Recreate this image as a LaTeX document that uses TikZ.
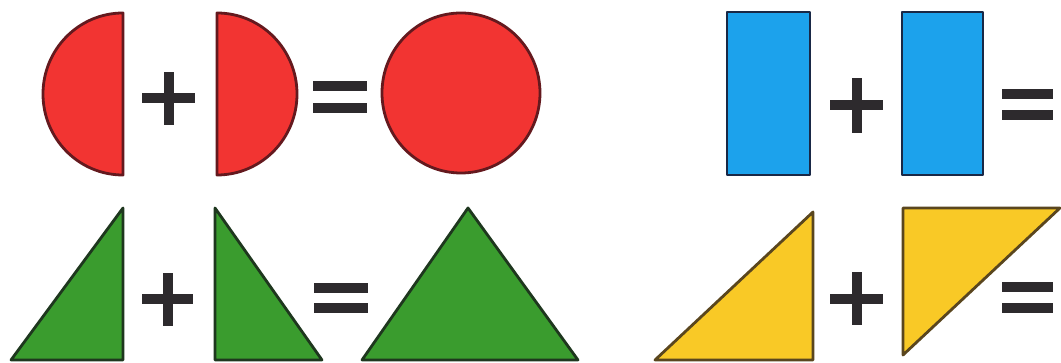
\documentclass[tikz,border=0pt]{standalone}
\definecolor{redfill}{RGB}{242,52,50}
\definecolor{redline}{RGB}{100,25,30}
\definecolor{bluefill}{RGB}{28,162,236}
\definecolor{blueline}{RGB}{25,40,70}
\definecolor{greenfill}{RGB}{58,156,46}
\definecolor{greenline}{RGB}{30,55,30}
\definecolor{yellowfill}{RGB}{249,201,38}
\definecolor{yellowline}{RGB}{90,70,30}
\definecolor{signcol}{RGB}{45,42,45}
\begin{document}
\begin{tikzpicture}[x=1pt,y=-1pt,
  redshape/.style={fill=redfill,draw=redline,line width=2.8pt,line join=round},
  blueshape/.style={fill=bluefill,draw=blueline,line width=2.8pt,line join=round},
  greenshape/.style={fill=greenfill,draw=greenline,line width=2.8pt,line join=round},
  yellowshape/.style={fill=yellowfill,draw=yellowline,line width=2.8pt,line join=round},
  signbar/.style={fill=signcol,draw=none}]
\useasboundingbox[fill=white] (0,0) rectangle (1061,363);
% ---------- red row ----------
\draw[redshape] (123,13) arc[start angle=-90,end angle=-270,x radius=80,y radius=81] -- cycle;
\fill[signbar] (142,93) rectangle (195,103);
\fill[signbar] (163.5,72) rectangle (173.5,125);
\draw[redshape] (217,13) arc[start angle=-90,end angle=90,x radius=80,y radius=81] -- cycle;
\fill[signbar] (313,81) rectangle (367,91);
\fill[signbar] (313,103) rectangle (367,113);
\draw[redshape] (461,93) ellipse[x radius=79,y radius=80];
% ---------- blue row ----------
\draw[blueshape] (727,12) rectangle (810,175);
\fill[signbar] (830,100) rectangle (883,110);
\fill[signbar] (851.5,78) rectangle (861.5,133);
\draw[blueshape] (902,12) rectangle (983,175);
\fill[signbar] (1002,89) rectangle (1053,99);
\fill[signbar] (1002,110) rectangle (1053,120);
% ---------- green row ----------
\draw[greenshape] (11,360) -- (123,208) -- (123,360) -- cycle;
\fill[signbar] (142,294) rectangle (193,304);
\fill[signbar] (162.5,273) rectangle (172.5,326);
\draw[greenshape] (215,208) -- (322,360) -- (215,360) -- cycle;
\fill[signbar] (314,283) rectangle (368,293);
\fill[signbar] (314,303) rectangle (368,313);
\draw[greenshape] (362,360) -- (468,208) -- (578,360) -- cycle;
% ---------- yellow row ----------
\draw[yellowshape] (655,360) -- (813,212) -- (813,360) -- cycle;
\fill[signbar] (830,294) rectangle (883,304);
\fill[signbar] (851.5,272) rectangle (861.5,325);
\draw[yellowshape] (903,208) -- (1060,208) -- (903,355) -- cycle;
\fill[signbar] (1002,282) rectangle (1053,292);
\fill[signbar] (1002,303) rectangle (1053,313);
\end{tikzpicture}
\end{document}
